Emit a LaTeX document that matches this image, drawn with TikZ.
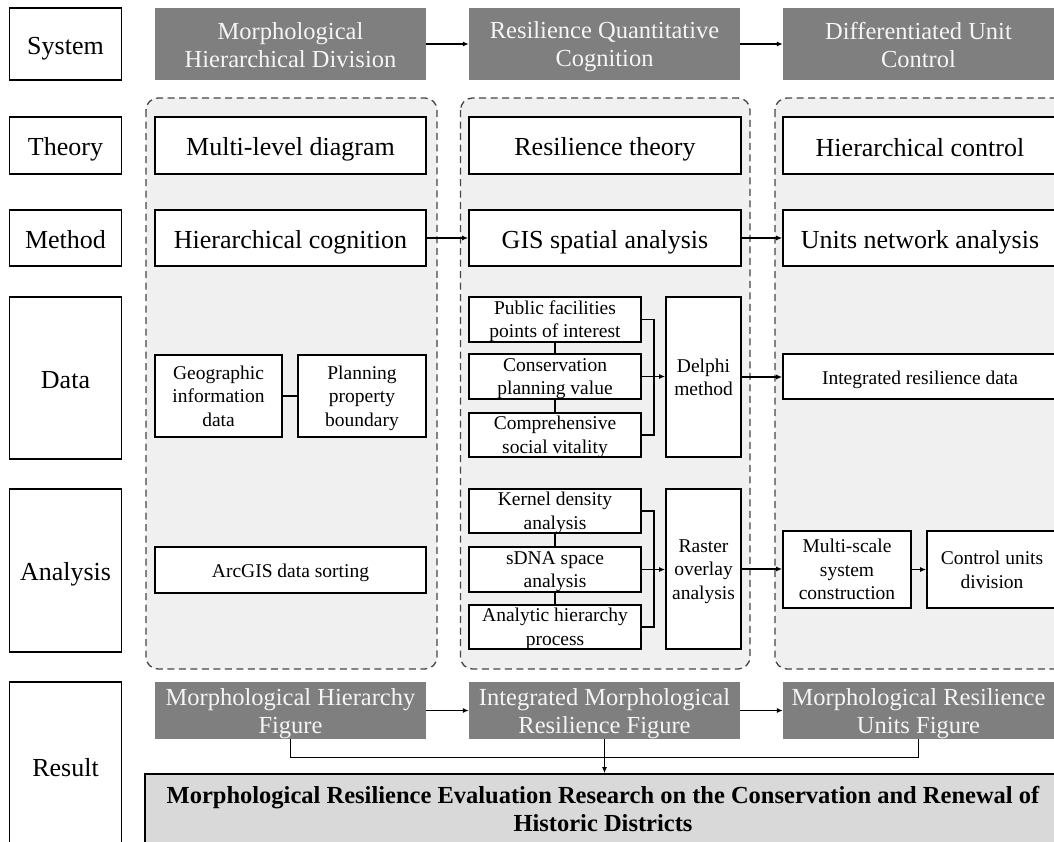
\documentclass[tikz,border=0pt]{standalone}
\usepackage{fontspec}
\setmainfont{Liberation Serif}
\usetikzlibrary{arrows.meta}
\definecolor{hdr}{RGB}{127,127,127}
\definecolor{hdrtext}{RGB}{245,245,245}
\definecolor{contc}{RGB}{240,240,240}
\definecolor{dashc}{RGB}{70,70,70}
\definecolor{finalc}{RGB}{217,217,217}
\newcommand\mystrut{\vrule width 0pt height 1.02em depth .2em\relax}
\newcommand\hdrstrut{\vrule width 0pt height .95em depth 0pt\relax}
\newcommand\smallstrut{\vrule width 0pt height .9em depth 0pt\relax}
\begin{document}
\begin{tikzpicture}[x=1pt,y=-1pt,
  every node/.style={execute at begin node=\mystrut,execute at end node=\mystrut},
  box/.style={draw=black,line width=1.6pt,fill=white,inner xsep=0pt,inner ysep=-4pt,align=center},
  sz/.style 2 args={minimum width=#1,minimum height=#2},
  big/.style={font=\fontsize{26}{30}\selectfont},
  small/.style={font=\fontsize{19.5}{23.5}\selectfont},
  hdrbox/.style={fill=hdr,text=hdrtext,inner xsep=0pt,inner ysep=-4pt,align=center,font=\fontsize{24.5}{28}\selectfont},
  contbox/.style={draw=dashc,fill=contc,line width=1.3pt,dash pattern=on 7pt off 4.5pt,rounded corners=12pt},
  arr/.style={line width=1.4pt,-{Latex[length=6pt,width=5pt]}},
  ln/.style={line width=1.4pt}]
\useasboundingbox (0,0) rectangle (1054,841);
\clip (0,0) rectangle (1054,841);
\fill[white] (0,0) rectangle (1054,841);

% dashed containers
\draw[contbox] (146,98) rectangle (437,669);
\draw[contbox] (460.5,98) rectangle (750,669);
\draw[contbox] (775,98) rectangle (1066,669);

% left labels
\node[box,big,sz={112}{71.5}] (sys) at (65.5,44) {System};
\node[box,big,sz={112}{57}] (theo) at (65.5,145.5) {Theory};
\node[box,big,sz={112}{56}] (meth) at (65.5,238) {Method};
\node[box,big,sz={112}{162}] (data) at (65.5,378) {Data};
\node[box,big,sz={112}{163}] (anal) at (65.5,570.5) {Analysis};
\node[box,big,sz={112}{168}] (res) at (65.5,766) {Result};

% system headers
\node[hdrbox,sz={271}{71.5}] (h1) at (290.5,44) {\hdrstrut Morphological\\Hierarchical Division};
\node[hdrbox,sz={271}{71.5}] (h2) at (604.5,44) {\hdrstrut Resilience Quantitative\\Cognition};
\node[hdrbox,sz={271}{71.5}] (h3) at (918.5,44) {\hdrstrut Differentiated Unit\\Control};
\draw[arr] (h1.east) -- (h2.west);
\draw[arr] (h2.east) -- (h3.west);

% theory
\node[box,big,sz={271}{57}] (t1) at (290.5,145.5) {Multi-level diagram};
\node[box,big,sz={272}{57}] (t2) at (605,145.5) {Resilience theory};
\node[box,big,sz={274}{57}] (t3) at (920,145.5) {Hierarchical control};

% method
\node[box,big,sz={271}{56}] (m1) at (290.5,238) {Hierarchical cognition};
\node[box,big,sz={272}{56}] (m2) at (605,238) {GIS spatial analysis};
\node[box,big,sz={274}{56}] (m3) at (920,238) {Units network analysis};
\draw[arr] (m1.east) -- (m2.west);
\draw[arr] (m2.east) -- (m3.west);

% data
\node[box,small,sz={127}{82}] (geo) at (218.5,396) {\smallstrut Geographic\\information\\data};
\node[box,small,sz={127.5}{82}] (plan) at (362,396) {\smallstrut Planning\\property\\boundary};
\draw[ln] (geo) -- (plan);
\node[box,small,sz={172}{45}] (pf) at (555,319.5) {\smallstrut Public facilities\\points of interest};
\node[box,small,sz={172}{45}] (cons) at (555,376.5) {\smallstrut Conservation\\planning value};
\node[box,small,sz={172}{44}] (comp) at (555,435) {\smallstrut Comprehensive\\social vitality};
\node[box,small,sz={75}{160}] (delphi) at (703.5,377) {\smallstrut Delphi\\method};
\node[box,small,sz={274}{45}] (integ) at (920,376.5) {Integrated resilience data};
\draw[ln] (pf) -- (cons);
\draw[ln] (cons) -- (comp);
\draw[ln] (pf.east) -- ++(12,0) |- (comp.east);
\draw[arr] (cons.east) -- (cons.east -| delphi.west);
\draw[arr] (delphi.east) -- (delphi.east -| integ.west);

% analysis
\node[box,small,sz={271}{46}] (arc) at (290.5,570) {ArcGIS data sorting};
\node[box,small,sz={172}{44}] (ker) at (555,511) {\smallstrut Kernel density\\analysis};
\node[box,small,sz={172}{45}] (sdna) at (555,569.5) {\smallstrut sDNA space\\analysis};
\node[box,small,sz={172}{44}] (ahp) at (555,627) {\smallstrut Analytic hierarchy\\process};
\node[box,small,sz={75}{160}] (raster) at (703.5,569) {\smallstrut Raster\\overlay\\analysis};
\node[box,small,sz={128}{77}] (ms) at (847,569.5) {\smallstrut Multi-scale\\system\\construction};
\node[box,small,sz={130}{77}] (cu) at (992,569.5) {\smallstrut Control units\\division};
\draw[ln] (ker) -- (sdna);
\draw[ln] (sdna) -- (ahp);
\draw[ln] (ker.east) -- ++(12,0) |- (ahp.east);
\draw[arr] (sdna.east) -- (sdna.east -| raster.west);
\draw[arr] (raster.east) -- (raster.east -| ms.west);
\draw[arr] (ms.east) -- (cu.west);

% result
\node[hdrbox,sz={271}{57}] (r1) at (290.5,710.5) {\hdrstrut Morphological Hierarchy\\Figure};
\node[hdrbox,sz={271}{57}] (r2) at (604.5,710.5) {\hdrstrut Integrated Morphological\\Resilience Figure};
\node[hdrbox,sz={271}{57}] (r3) at (918.5,710.5) {\hdrstrut Morphological Resilience\\Units Figure};
\draw[arr] (r1.east) -- (r2.west);
\draw[arr] (r2.east) -- (r3.west);
\node[box,fill=finalc,sz={916}{74},font=\fontsize{24.5}{28}\selectfont\bfseries] (final) at (603,811)
  {Morphological Resilience Evaluation Research on the Conservation and Renewal of\\Historic Districts};
\draw[ln] (r1.south) -- ++(0,18) -| (r3.south);
\draw[arr] (r2.south) -- (r2.south |- final.north);
\end{tikzpicture}
\end{document}
